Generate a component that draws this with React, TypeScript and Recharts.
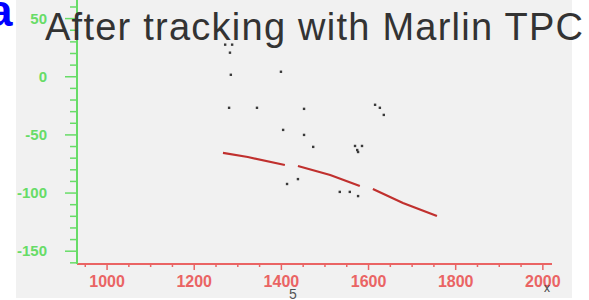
import { ScatterChart, Scatter, XAxis, YAxis } from "recharts";

// hit positions (x, y)
const hitX = [1271, 1287, 1282, 1284, 1399, 1280, 1344, 1452, 1404, 1452, 1473, 1569, 1574, 1585, 1576, 1413, 1438, 1534, 1557, 1576, 1615, 1626, 1635];
const hitY = [27.6, 27.6, 20.7, 1.7, 4.3, -26.7, -26.7, -27.6, -45.7, -50, -60.3, -59.5, -63, -59.5, -64.7, -92.2, -88, -99, -99, -102.6, -24.1, -26.7, -32.8];

// fitted track, three pieces
const trackX1 = [1266, 1323, 1408];
const trackY1 = [-65.5, -69, -75.9];
const trackX2 = [1438, 1512, 1580];
const trackY2 = [-76.7, -84.5, -94];
const trackX3 = [1610, 1679, 1757];
const trackY3 = [-96.5, -108.6, -119.8];

const xTicks = [950, 1000, 1050, 1100, 1150, 1200, 1250, 1300, 1350, 1400, 1450, 1500, 1550, 1600, 1650, 1700, 1750, 1800, 1850, 1900, 1950, 2000];
const xLabels = [1000, 1200, 1400, 1600, 1800, 2000];
const yTicks = [-160, -150, -140, -130, -120, -110, -100, -90, -80, -70, -60, -50, -40, -30, -20, -10, 0, 10, 20, 30, 40, 50, 60];
const yLabels = [-150, -100, -50, 0, 50];

const FONT = "'Liberation Sans', Arial, sans-serif";
const GREEN = "#67dc67";
const RED = "#ea6464";

const toPts = (xs: number[], ys: number[]) => xs.map((x, i) => ({ x, y: ys[i] }));

const hits = toPts(hitX, hitY);
const seg1 = toPts(trackX1, trackY1);
const seg2 = toPts(trackX2, trackY2);
const seg3 = toPts(trackX3, trackY3);

function XTick(props: any) {
  const { x, y, payload } = props;
  const major = xLabels.includes(payload.value);
  return (
    <g>
      <line x1={x} x2={x} y1={y} y2={y + (major ? 6 : 3)} stroke={RED} strokeWidth={1.5} />
      {major && (
        <text x={x} y={y + 23} textAnchor="middle" fill={RED} fontSize={16} fontWeight="bold" fontFamily={FONT}>
          {payload.value}
        </text>
      )}
    </g>
  );
}

function YTick(props: any) {
  const { x, y, payload } = props;
  const major = yLabels.includes(payload.value);
  return (
    <g>
      <line x1={x - (major ? 12 : 7)} x2={x} y1={y} y2={y} stroke={GREEN} strokeWidth={1.5} />
      {major && (
        <text x={47} y={y + 5} textAnchor="end" fill={GREEN} fontSize={15} fontWeight="bold" fontFamily={FONT}>
          {payload.value}
        </text>
      )}
    </g>
  );
}

const Dot = (props: any) => <rect x={props.cx - 1.2} y={props.cy - 1.2} width={2.4} height={2.4} fill="#3a3a3a" />;
const NoDot = () => <g />;

export default function App() {
  return (
    <div style={{ position: "absolute", left: 0, top: 0, width: 589, height: 300, background: "#fff" }}>
      <div style={{ position: "absolute", left: 16, top: 0, width: 556, height: 298, background: "#f1f1f1" }} />
      <div style={{ position: "absolute", left: 0, top: 0 }}>
        <ScatterChart width={589} height={300} margin={{ top: 0, right: 37, bottom: 6, left: 17 }}>
          <XAxis
            type="number"
            dataKey="x"
            domain={[931, 2021]}
            ticks={xTicks}
            interval={0}
            tick={<XTick />}
            tickLine={false}
            tickSize={0}
            tickMargin={0}
            height={30}
            axisLine={{ stroke: RED, strokeWidth: 2 }}
            allowDataOverflow
          />
          <YAxis
            type="number"
            dataKey="y"
            domain={[-161, 66]}
            ticks={yTicks}
            interval={0}
            tick={<YTick />}
            tickLine={false}
            tickSize={0}
            tickMargin={0}
            width={60}
            axisLine={{ stroke: GREEN, strokeWidth: 2 }}
            allowDataOverflow
          />
          <Scatter data={seg1} line={{ stroke: "#c0302e", strokeWidth: 2.2 }} shape={<NoDot />} isAnimationActive={false} />
          <Scatter data={seg2} line={{ stroke: "#c0302e", strokeWidth: 2.2 }} shape={<NoDot />} isAnimationActive={false} />
          <Scatter data={seg3} line={{ stroke: "#c0302e", strokeWidth: 2.2 }} shape={<NoDot />} isAnimationActive={false} />
          <Scatter data={hits} shape={<Dot />} isAnimationActive={false} />
        </ScatterChart>
      </div>
      <svg width={589} height={300} style={{ position: "absolute", left: 0, top: 0, pointerEvents: "none" }}>
        <text x={-12} y={26} fill="#0000ff" fontSize={44} fontWeight="bold" fontFamily={FONT}>a</text>
        <text x={45} y={40} textLength={538} fill="#333" fontSize={38} fontFamily={FONT}>After tracking with Marlin TPC</text>
        <text x={293} y={299} textAnchor="middle" fill="#555" fontSize={14} fontFamily={FONT}>5</text>
        <text x={547} y={292} textAnchor="middle" fill="#444" fontSize={12} fontFamily={FONT}>x</text>
      </svg>
    </div>
  );
}
